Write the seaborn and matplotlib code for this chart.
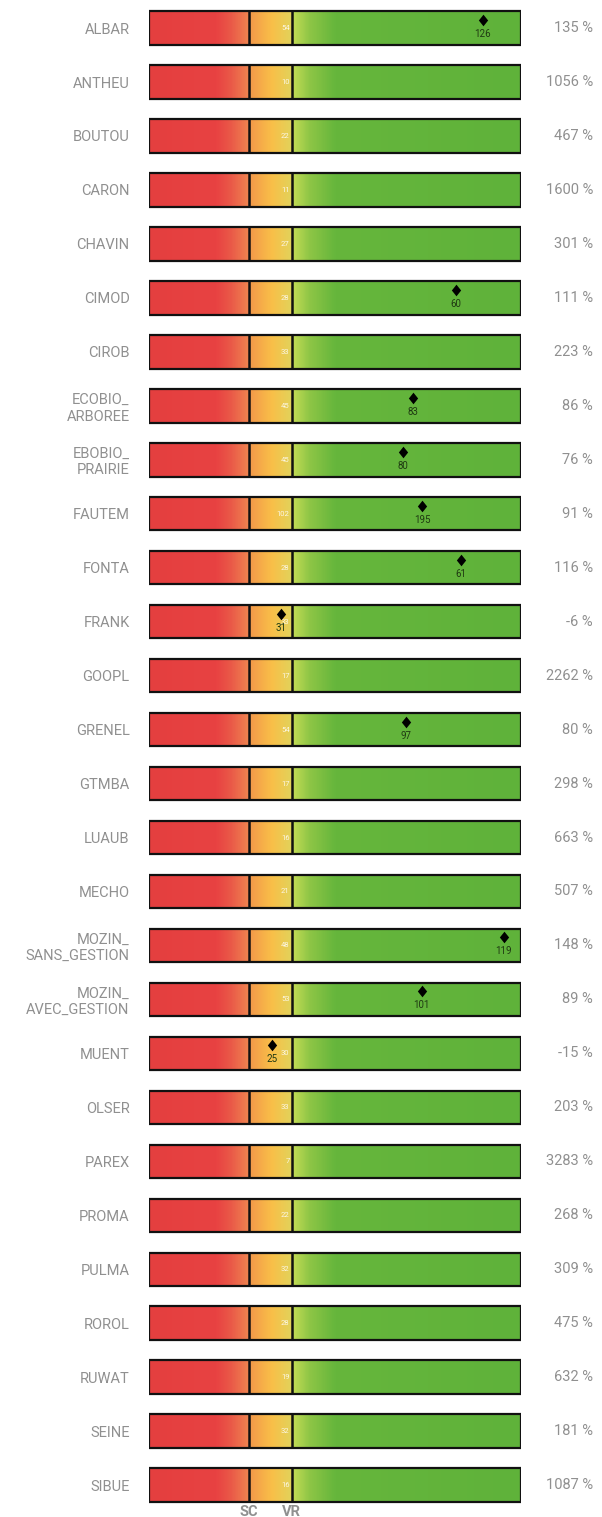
import matplotlib
matplotlib.use('Agg')
import matplotlib.pyplot as plt
from matplotlib.colors import LinearSegmentedColormap
import numpy as np
import pandas as pd
import seaborn as sns

# données
stations = ['ALBAR', 'ANTHEU', 'BOUTOU', 'CARON', 'CHAVIN', 'CIMOD', 'CIROB',
            'ECOBIO_\nARBOREE', 'EBOBIO_\nPRAIRIE', 'FAUTEM', 'FONTA', 'FRANK',
            'GOOPL', 'GRENEL', 'GTMBA', 'LUAUB', 'MECHO', 'MOZIN_\nSANS_GESTION',
            'MOZIN_\nAVEC_GESTION', 'MUENT', 'OLSER', 'PAREX', 'PROMA', 'PULMA',
            'ROROL', 'RUWAT', 'SEINE', 'SIBUE']
vr = [54, 10, 22, 11, 27, 28, 33, 45, 45, 102, 28, 33, 17, 54, 17, 16, 21, 48,
      53, 30, 33, 7, 22, 32, 28, 19, 32, 16]
sc = [36, 7, 15, 7, 18, 19, 22, 30, 30, 68, 19, 25, 11, 36, 11, 11, 14, 32,
      35, 19, 22, 5, 15, 21, 19, 13, 21, 11]
valeur = [126, None, None, None, None, 60, None, 83, 80, 195, 61, 31, None, 97,
          None, None, None, 119, 101, 25, None, None, None, None, None, None,
          None, None]
ecart = [135, 1056, 467, 1600, 301, 111, 223, 86, 76, 91, 116, -6, 2262, 80,
         298, 663, 507, 148, 89, -15, 203, 3283, 268, 309, 475, 632, 181, 1087]

# position des seuils dans la barre (0 -> 1)
SC_POS = 0.269
VR_POS = 0.384
GREEN_MAX = 2.6  # la zone verte va de VR à 2.6 x VR


def position(v, s, r):
    if v < s:
        return v / s * SC_POS
    if v < r:
        return SC_POS + (v - s) / (r - s) * (VR_POS - SC_POS)
    return VR_POS + (v / r - 1) / (GREEN_MAX - 1) * (1 - VR_POS)


df = pd.DataFrame({'station': stations, 'vr': vr, 'sc': sc,
                   'valeur': valeur, 'ecart': ecart})
df['plein'] = 1.0
df['pos'] = [position(v, s, r) if v is not None and not pd.isna(v) else np.nan
             for v, s, r in zip(df['valeur'], df['sc'], df['vr'])]
df['y'] = np.arange(len(df))

sns.set_style('white')
plt.rcParams['font.family'] = ['Roboto', 'DejaVu Sans']

fig = plt.figure(figsize=(6.02, 15.17), dpi=100)
ax = fig.add_axes([149 / 602, 13 / 1517, 372 / 602, 1504 / 1517])

sns.barplot(data=df, x='plein', y='station', orient='h', width=0.62,
            fill=False, edgecolor='#111111', linewidth=1.6, ax=ax, zorder=3)

# dégradé rouge -> orange -> vert
stops = [(0.0, '#e43f3f'), (0.18, '#e84242'), (0.22, '#ea5a48'),
         (0.268, '#ef8550'), (0.272, '#f39a4a'), (0.33, '#f9bf48'),
         (0.383, '#e2d35a'), (0.386, '#c4dc55'), (0.43, '#8fc646'),
         (0.5, '#66b63c'), (1.0, '#5fb23a')]
cmap = LinearSegmentedColormap.from_list('zones', stops)
grad = np.linspace(0, 1, 600).reshape(1, -1)

for patch in ax.patches:
    y0 = patch.get_y()
    hh = patch.get_height()
    im = ax.imshow(grad, cmap=cmap, vmin=0, vmax=1, aspect='auto',
                   extent=(0, 1, y0 + hh, y0), zorder=1)
    im.set_clip_path(patch)

h = 0.62
for y in df['y']:
    ax.vlines([SC_POS, VR_POS], y - h / 2, y + h / 2, colors='#111111',
              linewidth=1.8, zorder=4)

# valeur VR dans la zone orange + écart à droite
for _, r in df.iterrows():
    ax.text(VR_POS - 0.006, r['y'], str(r['vr']), ha='right', va='center',
            fontsize=5.5, color='white', alpha=0.85, zorder=5)
    ax.text(1.1935, r['y'], f"{r['ecart']} %", ha='right', va='center',
            fontsize=10.5, color='#909090', clip_on=False)

# marqueurs (losange un peu étiré)
losange = [(0, 1), (0.8, 0), (0, -1), (-0.8, 0), (0, 1)]
pts = df.dropna(subset=['pos'])
sns.scatterplot(x=pts['pos'], y=pts['y'] - 0.15, marker=losange, s=70,
                color='black', edgecolor='black', linewidth=0, ax=ax,
                zorder=6, legend=False)
for _, r in pts.iterrows():
    ax.text(r['pos'], r['y'] + 0.11, str(int(r['valeur'])), ha='center',
            va='center', fontsize=7, color='#1f3a12', zorder=6)

ax.set_xlim(0, 1)
ax.set_ylim(27.35, -0.52)
ax.set_xticks([SC_POS, VR_POS], ['SC', 'VR'])
ax.set_yticks(df['y'], stations)
ax.tick_params(axis='x', length=0, pad=1, labelsize=10.5, labelcolor='#909090')
ax.tick_params(axis='y', length=0, pad=14, labelsize=10.5, labelcolor='#909090')
for lab in ax.get_xticklabels():
    lab.set_fontweight('bold')
ax.set_xlabel('')
ax.set_ylabel('')
for s in ax.spines.values():
    s.set_visible(False)

fig.savefig('out.png', dpi=100)
